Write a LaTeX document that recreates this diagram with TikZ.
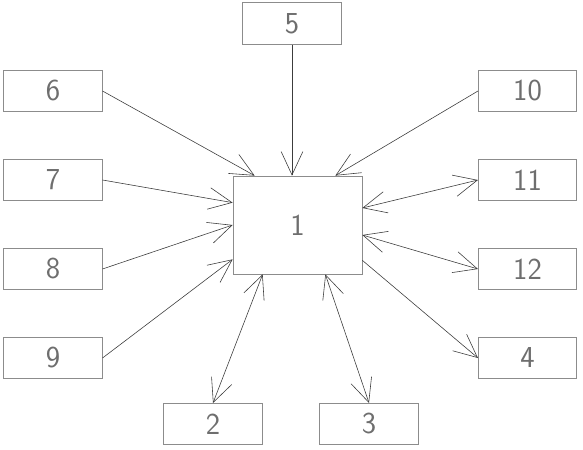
\documentclass[tikz,border=0pt]{standalone}
\usepackage{tikz}
\usetikzlibrary{arrows.meta, positioning}
\definecolor{boxline}{HTML}{8C8C8C}
\definecolor{wire}{HTML}{3C3C3C}
\definecolor{digit}{HTML}{6E6E6E}

\begin{document}
\begin{tikzpicture}[
    x=0.03cm, y=-0.03cm,
    every node/.style={font=\sffamily\fontsize{26}{28}\selectfont, text=digit},
    unit/.style={rectangle, draw=boxline, line width=0.6pt, minimum width=2.95cm, minimum height=1.24cm, inner sep=0pt},
    core/.style={rectangle, draw=boxline, line width=0.6pt, minimum width=3.87cm, minimum height=2.94cm, inner sep=0pt},
    tip/.style={-{Straight Barb[length=7mm, width=6.5mm]}, line width=0.5pt, color=wire},
    dtip/.style={{Straight Barb[length=7mm, width=6.5mm]}-{Straight Barb[length=7mm, width=6.5mm]}, line width=0.5pt, color=wire}
]
\useasboundingbox (0,0) rectangle (583,450);

% Central unit
\node[core] (n1) at (297.5,225) {1};

% Surrounding units
\node[unit] (n5)  at (292,23.5)   {5};
\node[unit] (n6)  at (53,91)      {6};
\node[unit] (n7)  at (53,180)     {7};
\node[unit] (n8)  at (53,269)     {8};
\node[unit] (n9)  at (53,358)     {9};
\node[unit] (n10) at (527.5,91)   {10};
\node[unit] (n11) at (527.5,180)  {11};
\node[unit] (n12) at (527.5,269)  {12};
\node[unit] (n4)  at (527.5,358)  {4};
\node[unit] (n2)  at (213,424)    {2};
\node[unit] (n3)  at (369,424)    {3};

% Inputs into 1
\draw[tip] (n5.south) -- (n5.south |- n1.north);
\draw[tip] (n6.east) -- ([xshift=0.66cm]n1.north west);
\draw[tip] (n10.west) -- ([xshift=-0.81cm]n1.north east);
\draw[tip] (n7.east) -- ([yshift=-0.81cm]n1.north west);
\draw[tip] (n8.east) -- (n1.west);
\draw[tip] (n9.east) -- ([yshift=0.45cm]n1.south west);

% Outputs and two-way links
\draw[dtip] ([yshift=0.51cm]n1.east) -- (n11.west);
\draw[dtip] ([yshift=-0.3cm]n1.east) -- (n12.west);
\draw[tip] ([yshift=0.42cm]n1.south east) -- (n4.west);
\draw[dtip] ([xshift=0.9cm]n1.south west) -- (n2.north);
\draw[dtip] ([xshift=-1.11cm]n1.south east) -- (n3.north);
\end{tikzpicture}
\end{document}
